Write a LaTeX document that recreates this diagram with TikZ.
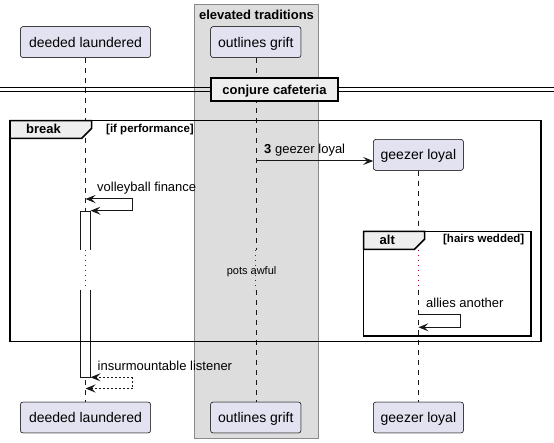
\documentclass[tikz,border=0pt]{standalone}
\usepackage{fontspec}
\setmainfont{Liberation Sans}
\usetikzlibrary{arrows.meta}
\definecolor{ink}{HTML}{181818}
\definecolor{partfill}{HTML}{E2E2F0}
\definecolor{grpfill}{HTML}{DDDDDD}
\definecolor{grpline}{HTML}{8A8A8A}
\definecolor{tabfill}{HTML}{EEEEEE}
\definecolor{delaycol}{HTML}{A80036}
\tikzset{
  participant/.style={draw=ink, line width=0.5pt, fill=partfill, rounded corners=2.5pt,
    minimum height=30.8pt, inner sep=0pt, text height=13pt, text depth=3pt,
    font=\fontsize{14}{16}\selectfont},
  life/.style={draw=ink, line width=0.5pt, dash pattern=on 5pt off 5pt},
  lifedelay/.style={draw=delaycol, line width=1pt, dash pattern=on 1pt off 4pt},
  msgtipped/.style={draw=ink, line width=1pt, line join=miter, -{Stealth[length=10pt,width=8pt,inset=4pt]}},
  msgline/.style={draw=ink, line width=1pt},
  retdash/.style={dash pattern=on 2pt off 2pt},
  msglabel/.style={anchor=base west, inner sep=0pt, font=\fontsize{13}{15}\selectfont},
  frameline/.style={draw=black, line width=1.5pt},
  tabtext/.style={anchor=base west, inner sep=0pt, font=\bfseries\fontsize{13}{15}\selectfont},
  guardtext/.style={inner sep=0pt, font=\bfseries\fontsize{11.5}{13}\selectfont},
  activ/.style={draw=ink, line width=1pt, fill=white},
}
\begin{document}
\begin{tikzpicture}[x=1pt, y=-1pt]
\useasboundingbox (0,0) rectangle (554,443);

% group box
\draw[draw=grpline, line width=1pt, fill=grpfill] (194,5) rectangle (318,438.3);
\node[anchor=base, inner sep=0pt, font=\bfseries\fontsize{13}{15}\selectfont] (grpTitle) at (256.5,20) {elevated traditions};

% participants
\node[participant, minimum width=130pt] (dlTop) at (85.5,42.1) {deeded laundered};
\node[participant, minimum width=90.3pt] (ogTop) at (255.8,42.1) {outlines grift};
\node[participant, minimum width=130pt] (dlBot) at (85.5,417.5) {deeded laundered};
\node[participant, minimum width=90.3pt] (ogBot) at (255.8,417.5) {outlines grift};
\node[participant, minimum width=90pt] (glBot) at (418.4,417.5) {geezer loyal};
\node[participant, minimum width=90pt] (glBox) at (418.4,154.9) {geezer loyal};

% lifeline coordinates
\coordinate (dlD1) at (85.5,250);  \coordinate (dlD2) at (85.5,290);
\coordinate (ogD1) at (255.8,250); \coordinate (ogD2) at (255.8,290);
\coordinate (glD1) at (418.4,250); \coordinate (glD2) at (418.4,290);

% lifelines
\draw[life] (dlTop.south) -- (dlD1);
\draw[lifedelay] (dlD1) -- (dlD2);
\draw[life] (dlD2) -- (dlBot.north);
\draw[life] (ogTop.south) -- (ogD1);
\draw[lifedelay] (ogD1) -- (ogD2);
\draw[life] (ogD2) -- (ogBot.north);
\draw[life] (glBox.south) -- (glD1);
\draw[lifedelay] (glD1) -- (glD2);
\draw[life] (glD2) -- (glBot.north);

% activation bar (interrupted by the delay)
\path[activ] (80.5,250) -- (80.5,211.7) -- (90.5,211.7) -- (90.5,250);
\path[activ] (80.5,290) -- (80.5,377.3) -- (90.5,377.3) -- (90.5,290);

% re-draw participants on top of their lifelines
\node[participant, minimum width=130pt] at (dlTop) {deeded laundered};
\node[participant, minimum width=90.3pt] at (ogTop) {outlines grift};
\node[participant, minimum width=130pt] at (dlBot) {deeded laundered};
\node[participant, minimum width=90.3pt] at (ogBot) {outlines grift};
\node[participant, minimum width=90pt] at (glBot) {geezer loyal};
\node[participant, minimum width=90pt] at (glBox) {geezer loyal};

% divider
\draw[black, line width=1pt] (0,87.7) -- (554,87.7);
\draw[black, line width=1pt] (0,91.3) -- (554,91.3);
\node[draw=black, line width=2pt, fill=tabfill, minimum width=127.6pt, minimum height=23pt,
  inner sep=0pt, text height=12pt, text depth=2pt, font=\bfseries\fontsize{13}{15}\selectfont]
  (divider) at (274.5,89.5) {conjure cafeteria};

% break frame
\draw[frameline] (10,120.7) rectangle (541,341.7);
\draw[frameline, fill=tabfill] (10,120.7) -- (91.7,120.7) -- (91.7,128.3) -- (81.7,138.3) -- (10,138.3) -- cycle;
\node[tabtext] (breakLbl) at (26,134) {break};
\node[guardtext, anchor=base west] (breakGuard) at (106,133) {[if performance]};

% alt frame
\draw[frameline] (363.5,231.3) rectangle (531,336);
\draw[frameline, fill=tabfill] (363.5,231.3) -- (424.5,231.3) -- (424.5,239.3) -- (414.5,249.3) -- (363.5,249.3) -- cycle;
\node[tabtext] (altLbl) at (379.5,244.6) {alt};
\node[guardtext, anchor=base east] (altGuard) at (524.5,243) {[hairs wedded]};

% message 3
\coordinate (m3a) at (255.8,161);
\draw[msgtipped] (m3a) -- (glBox.west |- m3a);
\node[msglabel] (m3lab) at (264,153.5) {\textbf{3} geezer loyal};

% volleyball finance (self message)
\coordinate (vfA) at (132.7,199);
\coordinate (vfB) at (132.7,210.7);
\coordinate (vfT1) at (85.5,199);
\coordinate (vfT2) at (90.5,210.7);
\draw[msgtipped] (vfA) -- (vfT1);
\draw[msgline] (vfA) -- (vfB);
\draw[msgtipped] (vfB) -- (vfT2);
\node[msglabel] (vfLab) at (97,191.5) {volleyball finance};

% delay text
\node[anchor=base, inner sep=0pt, font=\fontsize{11}{13}\selectfont] (delayLbl) at (251.6,274.5) {pots awful};

% allies another
\coordinate (alA) at (418.4,315);
\coordinate (alB) at (460.7,315);
\coordinate (alC) at (460.7,327.3);
\coordinate (alD) at (418.4,327.3);
\draw[msgtipped] (alA) -- (alB) -- (alC) -- (alD);
\node[msglabel] (alLab) at (426,308) {allies another};

% insurmountable listener (return)
\coordinate (ilA) at (132.7,377.3);
\coordinate (ilB) at (132.7,388.5);
\coordinate (ilT1) at (90.5,377.3);
\coordinate (ilT2) at (85.5,388.5);
\draw[msgtipped, retdash] (ilA) -- (ilT1);
\draw[msgline, retdash] (ilA) -- (ilB);
\draw[msgtipped, retdash] (ilB) -- (ilT2);
\node[msglabel] (ilLab) at (97.5,370.5) {insurmountable listener};
\end{tikzpicture}
\end{document}
